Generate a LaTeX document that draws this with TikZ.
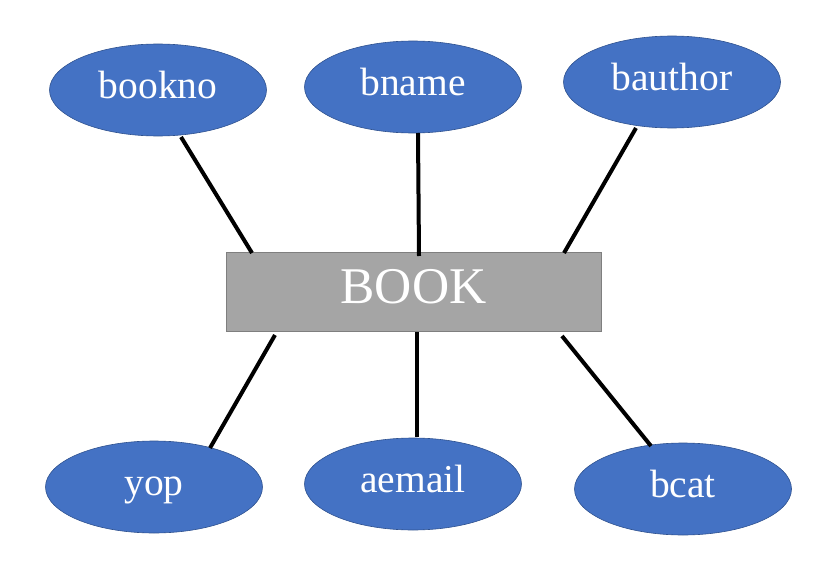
\documentclass[tikz,border=0pt]{standalone}
\usepackage{fontspec}
\setmainfont{Liberation Serif}
\usetikzlibrary{shapes.geometric}
\definecolor{attrfill}{HTML}{4472C4}
\definecolor{attrline}{HTML}{2F528F}
\definecolor{entfill}{HTML}{A5A5A5}
\definecolor{entline}{HTML}{7F7F7F}
\tikzset{
  attr/.style={ellipse, fill=attrfill, draw=attrline, line width=0.6pt,
    minimum width=217pt, minimum height=92pt, inner sep=0pt,
    text height=27pt, text depth=10pt,
    text=white, font=\fontsize{39.5}{42}\selectfont},
  entity/.style={rectangle, fill=entfill, draw=entline, line width=0.8pt,
    minimum width=375pt, minimum height=79pt, inner sep=0pt,
    text height=36pt, text depth=13pt,
    text=white, font=\fontsize{51.5}{54}\selectfont},
  link/.style={line width=4pt}
}
\begin{document}
\begin{tikzpicture}[x=1pt,y=-1pt]
\useasboundingbox (0,0) rectangle (833,578);
\node[entity] (book) at (413.5,291.5) {BOOK};
\node[attr] (bookno) at (158,90) {bookno};
\node[attr] (bname) at (413,87) {bname};
\node[attr] (bauthor) at (672,82) {bauthor};
\node[attr] (yop) at (154,487) {yop};
\node[attr] (aemail) at (413,484) {aemail};
\node[attr] (bcat) at (683,489) {bcat};
\coordinate (b1) at (252,253);
\coordinate (b2) at (419,256);
\coordinate (b3) at (564,253);
\coordinate (b4) at (275,335);
\coordinate (b5) at (417,332);
\coordinate (b6) at (562,336);
\coordinate (e1) at (181,137);
\coordinate (e2) at (418,133);
\coordinate (e3) at (636,128);
\coordinate (e4) at (210,448);
\coordinate (e5) at (417,437);
\coordinate (e6) at (651,446);
\draw[link] (e1) -- (b1);
\draw[link] (e2) -- (b2);
\draw[link] (e3) -- (b3);
\draw[link] (b4) -- (e4);
\draw[link] (b5) -- (e5);
\draw[link] (b6) -- (e6);
\end{tikzpicture}
\end{document}
